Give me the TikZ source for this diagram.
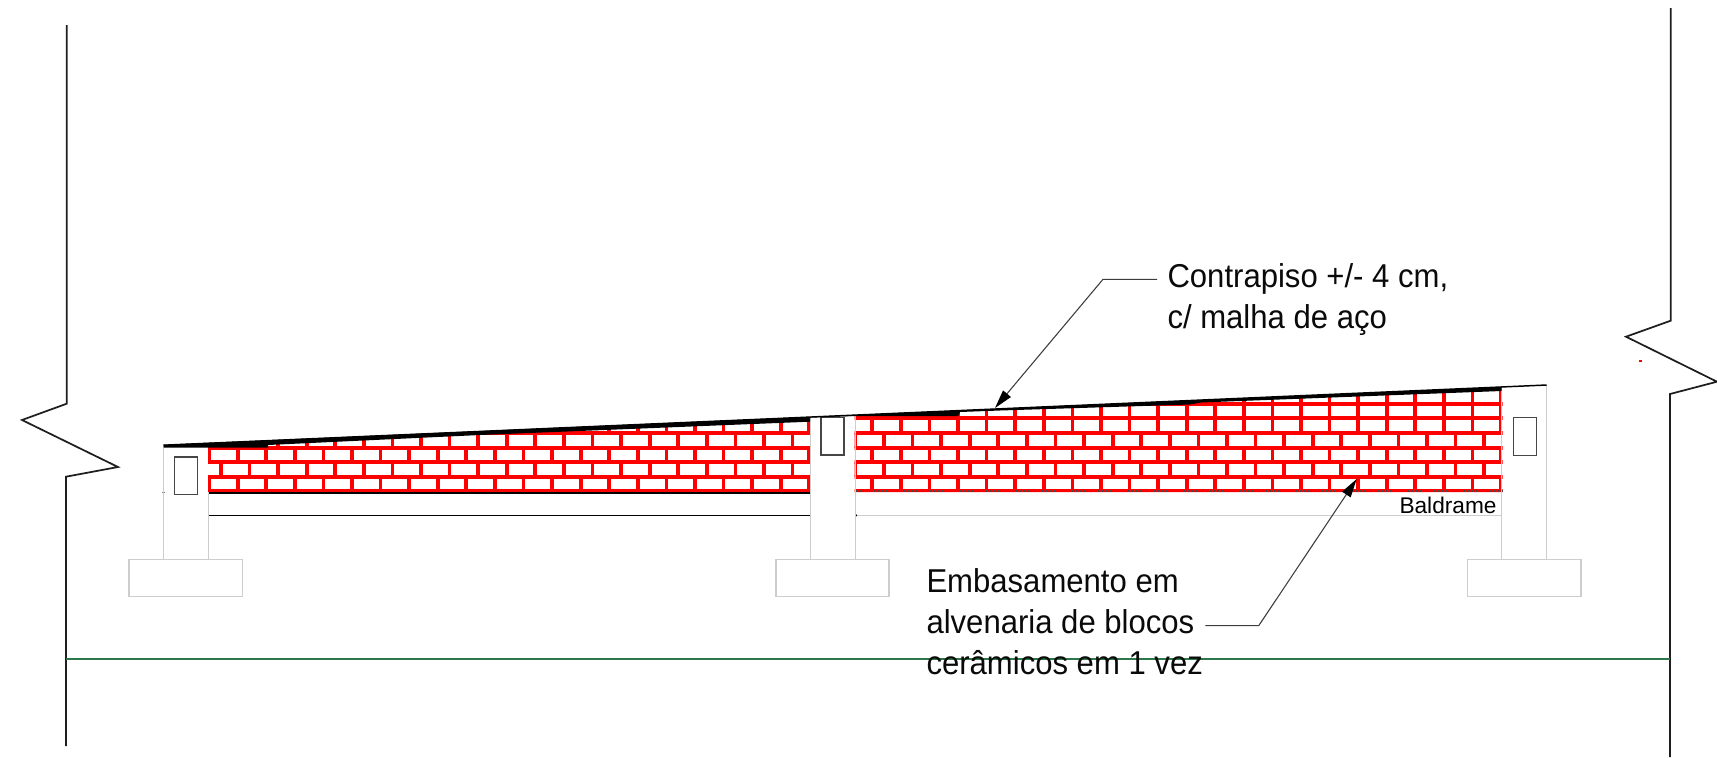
\documentclass[tikz,border=0pt]{standalone}
\usepackage{fontspec}
\usetikzlibrary{arrows.meta}
\setmainfont{Liberation Sans}
\newfontfamily\notefont[FakeStretch=0.94]{Liberation Sans}

\tikzset{every picture/.style={line width=0.75pt}}
\tikzset{
  brickline/.style={draw={rgb, 255:red, 255; green, 0; blue, 0 },line width=2.8pt},
  grayline/.style={draw={rgb, 255:red, 205; green, 205; blue, 205 },line width=0.9pt},
  breakline/.style={draw={rgb, 255:red, 30; green, 30; blue, 30 },line width=1.3pt},
  rebar/.style={draw={rgb, 255:red, 70; green, 70; blue, 70 },line width=0.8pt},
  leader/.style={draw={rgb, 255:red, 60; green, 60; blue, 60 },line width=0.8pt,-{Triangle[length=14pt,width=7.5pt,black]}},
  notetext/.style={align=left,inner sep=0pt,anchor=north west,font=\notefont\fontsize{24.8pt}{30.6pt}\selectfont,text={rgb, 255:red, 10; green, 10; blue, 10 }}
}

\begin{document}
\begin{tikzpicture}[x=0.75pt,y=0.75pt,yscale=-1,xscale=1]
\useasboundingbox (0,0) rectangle (1717,757);

%Shape: Left wall break
\draw [breakline] (66.7,25) -- (66.7,403.7) -- (22,420) -- (118,467) -- (66,476.7) -- (66,746);
%Shape: Right wall break
\draw [breakline] (1670.7,8) -- (1670.7,320.7) -- (1626,336.7) -- (1717,381.7) -- (1670,394) -- (1670,757);
%Shape: Red mark
\draw [brickline,line width=0.8pt] (1639,361) -- (1642,361);
%Shape: Ground line
\draw [draw={rgb, 255:red, 45; green, 120; blue, 75 },line width=1.1pt] (66,659) -- (1670,659);

%Shape: Bricks, left panel
\begin{scope}
\clip (208,444) -- (810,417.8) -- (810,492) -- (208,492) -- cycle;
\foreach \y in {419,433.3,447.7,462.3,476.7,490.7}
  \draw [brickline] (200,\y) -- (820,\y);
\foreach \i in {0,...,21} {
  \draw [brickline] (209.1+28.58*\i,476.7) -- (209.1+28.58*\i,490.7);
  \draw [brickline] (209.1+28.58*\i,447.7) -- (209.1+28.58*\i,462.3);
  \draw [brickline] (209.1+28.58*\i,410) -- (209.1+28.58*\i,433.3);
  \draw [brickline] (192.4+28.58*\i,462.3) -- (192.4+28.58*\i,476.7);
  \draw [brickline] (192.4+28.58*\i,433.3) -- (192.4+28.58*\i,447.7);
}
\end{scope}
%Shape: Bricks, right panel
\begin{scope}
\clip (854.5,415) -- (1502.5,386.8) -- (1502.5,492) -- (854.5,492) -- cycle;
\foreach \y in {404,418.3,433.3,447.7,462.3,476.7,490.7}
  \draw [brickline] (850,\y) -- (1510,\y);
\foreach \i in {0,...,22} {
  \draw [brickline] (872.3+28.58*\i,476.7) -- (872.3+28.58*\i,490.7);
  \draw [brickline] (872.3+28.58*\i,447.7) -- (872.3+28.58*\i,462.3);
  \draw [brickline] (872.3+28.58*\i,380) -- (872.3+28.58*\i,433.3);
  \draw [brickline] (855.4+28.58*\i,462.3) -- (855.4+28.58*\i,476.7);
  \draw [brickline] (855.4+28.58*\i,433.3) -- (855.4+28.58*\i,447.7);
}
\end{scope}

%Shape: Beam lines
\draw [line width=1.1pt] (208,492.9) -- (810,492.9);
\draw [line width=1.1pt] (208,515.3) -- (810,515.3);
\draw [rebar,dotted] (855.7,491) -- (1501.7,491);
\draw [grayline] (855.7,515.3) -- (1501.7,515.3);
\fill (856,515.3) circle (1.2);
\fill (163.5,492.5) circle (1.2);

%Shape: Columns
\draw [grayline] (163.5,446) -- (163.5,559.5);
\draw [grayline] (208.5,492) -- (208.5,559.5);
\draw [grayline] (810.3,418) -- (810.3,559.5);
\draw [grayline] (855.7,416) -- (855.7,559.5);
\draw [grayline] (1501.7,388) -- (1501.7,559.5);
\draw [grayline] (1546.7,385) -- (1546.7,559.5);
%Shape: Footings
\draw [grayline] (129,559.5) -- (242.5,559.5) -- (242.5,596.7) -- (129,596.7) -- cycle;
\draw [grayline] (776,559.5) -- (889,559.5) -- (889,596.7) -- (776,596.7) -- cycle;
\draw [grayline] (1467.7,559.5) -- (1581,559.5) -- (1581,596.7) -- (1467.7,596.7) -- cycle;
%Shape: Rebar boxes
\draw [rebar] (174.5,457) -- (197.5,457) -- (197.5,494.7) -- (174.5,494.7) -- cycle;
\draw [rebar] (821,417.5) -- (844,417.5) -- (844,455) -- (821,455) -- cycle;
\draw [rebar] (1513.7,417.3) -- (1536.7,417.3) -- (1536.7,455.3) -- (1513.7,455.3) -- cycle;

%Shape: Floor slab
\draw [line width=1.1pt] (163.5,445.2) -- (1546.7,385);
\fill (163.5,444.7) -- (1501.7,387) -- (1501.7,391) -- (1201,402.5) -- (1190,404.5) -- (1000,410.5) -- (960,412) -- (958,416) -- (855,416) -- (810,417.5) -- (810,421.7) -- (480,435) -- (268,445) -- (268,447.7) -- (163.5,447.7) -- cycle;

% Text Node
\node (contrapiso) [notetext] at (1167,263.5) {Contrapiso +/- 4 cm,\\c/ malha de aço};
% Text Node
\node (embasamento) [notetext] at (926,568) {Embasamento em\\alvenaria de blocos\\cerâmicos em 1 vez};
% Text Node
\node (baldrame) [anchor=base west,inner sep=0pt,font=\fontsize{17pt}{20pt}\selectfont] at (1399,513) {Baldrame};

%Leaders
\coordinate (contrapisostart) at (1157,279.3);
\coordinate (contrapisobend) at (1103,279.3);
\coordinate (contrapisotip) at (995,408);
\draw [leader] (contrapisostart) -- (contrapisobend) -- (contrapisotip);
\coordinate (embasamentostart) at (1205.3,625.7);
\coordinate (embasamentobend) at (1258.7,625.7);
\coordinate (embasamentotip) at (1356.7,479);
\draw [leader] (embasamentostart) -- (embasamentobend) -- (embasamentotip);

\end{tikzpicture}
\end{document}
